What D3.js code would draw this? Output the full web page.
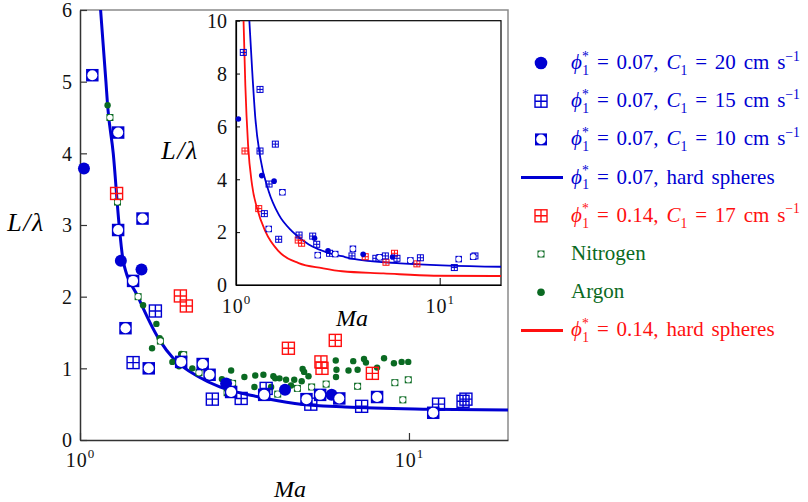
<!DOCTYPE html>
<html>
<head>
<meta charset="utf-8">
<script src="https://cdn.jsdelivr.net/npm/d3@7"></script>
<style>
  body { margin: 0; background: #fff; }
  svg { display: block; }
  text { font-family: "Liberation Serif", "Times New Roman", serif; }
</style>
</head>
<body>
<svg width="808" height="502"></svg>
<script>
// values: [Ma, L/lambda]

// main panel
const dot20 = [[1.028,3.79],[1.331,2.50],[1.538,2.38],[2.78,0.79],[4.2,0.70],[5.82,0.63]]
const grid15 = [[1.695,1.80],[1.45,1.08],[2.525,0.57],[3.09,0.58],[3.68,0.72],[5.03,0.50],
  [7.18,0.47],[12.3,0.50],[14.6,0.54],[14.9,0.57]]
const ring10 = [[1.09,5.09],[1.306,4.29],[1.549,3.09],[1.306,2.93],[1.45,2.22],[1.375,1.56],
  [1.618,1.00],[2.03,1.09],[2.36,1.06],[2.477,0.91],[2.88,0.67],[3.63,0.63],[4.88,0.57],
  [5.37,0.63],[6.14,0.58],[8.0,0.60],[11.85,0.38]]
const red17 = [[1.292,3.44],[2.019,2.01],[2.105,1.87],[4.30,1.28],[5.97,1.39],[5.40,1.09],
  [5.44,1.00],[7.74,0.93]]
const nitrogen = [[1.233,4.50],[1.30,3.32],[1.502,2.00],[1.755,1.38],[2.066,1.19],[2.30,0.94],
  [2.80,0.66],[2.91,0.79],[3.99,0.64],[4.58,0.72],[5.06,0.74],[5.6,0.78],[6.98,0.75],
  [9.06,0.80],[9.95,0.84],[9.58,0.56]]
const argon = [[1.213,4.67],[1.555,1.88],[1.707,1.62],[1.747,1.42],[1.656,1.28],[1.909,1.09],
  [2.03,1.20],[2.0,1.03],[2.195,1.00],[2.35,1.08],[2.70,0.85],[2.88,0.97],[2.85,0.81],
  [3.16,0.88],[3.41,0.90],[3.39,0.74],[3.61,0.91],[3.87,0.89],[3.92,0.86],[3.81,0.74],
  [4.23,0.84],[4.38,0.76],[4.48,0.84],[4.04,0.86],[4.75,0.99],[4.80,0.95],[4.72,0.82],
  [4.95,0.89],[5.99,1.11],[6.02,0.98],[6.0,0.88],[6.77,1.10],[6.55,0.97],[6.98,0.98],
  [7.3,1.13],[7.4,1.08],[8.0,1.01],[8.4,1.14],[9.0,1.07],[9.5,1.09],[9.95,1.09]]
const hard07 = [[1.155,6],[1.199,5.0],[1.213,4.67],[1.262,4.0],[1.315,3.0],[1.353,2.5],
  [1.5,2.0],[1.747,1.39],[1.92,1.14],[2.3,0.88],[2.66,0.74],[3.5,0.60],[4.5,0.51],
  [6.4,0.46],[11.5,0.43],[20,0.42]]

// inset
const inDot20 = [[1.027,6.28],[1.338,4.14],[1.538,3.93],[2.43,1.77],[2.83,1.29],[4.21,1.16],[5.87,1.06]]
const inGrid15 = [[1.086,8.80],[1.312,7.40],[1.312,5.07],[1.56,5.33],[1.453,3.82],[1.378,2.70],
  [1.62,1.73],[2.04,1.89],[2.38,1.85],[2.49,1.54],[2.88,1.20],[3.71,1.10],[4.86,1.01],
  [5.41,1.10],[6.17,1.01],[8.04,1.03],[11.8,0.66],[14.9,1.10]]
const inRing10 = [[1.69,3.51],[1.448,2.12],[2.52,1.13],[3.07,1.17],[3.75,1.37],[5.07,1.05],
  [7.18,0.93],[12.4,0.98],[14.6,1.07]]
const inRed17 = [[1.107,5.07],[1.293,2.89],[2.02,1.70],[2.10,1.58],[4.31,1.07],[5.45,0.86],
  [6.00,1.20],[7.73,0.80]]
const inHard07 = [[1.163,10],[1.199,8.2],[1.244,6.32],[1.317,4.8],[1.448,3.54],[1.622,2.66],
  [1.886,2.03],[2.277,1.53],[2.858,1.21],[3.32,1.09],[3.64,1.01],[6.41,0.82],[20,0.69]]
const inHard14 = [[1.089,10],[1.111,7.58],[1.146,5.31],[1.199,3.79],[1.268,2.91],[1.394,2.03],
  [1.622,1.27],[2.03,0.83],[2.647,0.64],[3.32,0.52],[5.30,0.44],[9.35,0.35],[20,0.34]]

const xDomain = [1, 20]
const xTicks = [1, 10]
const yTicks = [0, 1, 2, 3, 4, 5, 6]
const inYTicks = [0, 2, 4, 6, 8, 10]

const legendLabels = [
  [["ϕ","i"],["*","sup"],["1","sub",-6.5],[" = 0.07, "],["C","i"],["1","sub"],[" = 20 cm s"],["−1","sup"]],
  [["ϕ","i"],["*","sup"],["1","sub",-6.5],[" = 0.07, "],["C","i"],["1","sub"],[" = 15 cm s"],["−1","sup"]],
  [["ϕ","i"],["*","sup"],["1","sub",-6.5],[" = 0.07, "],["C","i"],["1","sub"],[" = 10 cm s"],["−1","sup"]],
  [["ϕ","i"],["*","sup"],["1","sub",-6.5],[" = 0.07, hard spheres"]],
  [["ϕ","i"],["*","sup"],["1","sub",-6.5],[" = 0.14, "],["C","i"],["1","sub"],[" = 17 cm s"],["−1","sup"]],
  [["Nitrogen"]],
  [["Argon"]],
  [["ϕ","i"],["*","sup"],["1","sub",-6.5],[" = 0.14, hard spheres"]]
]

const BLUE = "#0000d2", RED = "#ff1010", GREEN = "#0a6a22"

const svg = d3.select("svg")

// ---- marker helpers
function marker(g, type, cx, cy, s, color) {
  if (type === "dot") {
    g.append("circle").attr("cx", cx).attr("cy", cy).attr("r", s).attr("fill", color)
  } else if (type === "grid") {
    const h = s / 2
    g.append("rect").attr("x", cx - h).attr("y", cy - h).attr("width", s).attr("height", s)
      .attr("fill", "none").attr("stroke", color).attr("stroke-width", s > 8 ? 1.4 : 1)
    g.append("path").attr("d", `M${cx - h},${cy}H${cx + h}M${cx},${cy - h}V${cy + h}`)
      .attr("stroke", color).attr("stroke-width", s > 8 ? 1.4 : 1)
  } else if (type === "ring") {
    const h = s / 2
    g.append("rect").attr("x", cx - h).attr("y", cy - h).attr("width", s).attr("height", s).attr("fill", color)
    g.append("circle").attr("cx", cx).attr("cy", cy).attr("r", h * 0.8).attr("fill", "#fff")
  }
}

function drawSeries(g, data, x, y, type, s, color) {
  data.forEach(d => marker(g, type, x(d[0]), y(d[1]), s, color))
}

function richText(g, x, y, parts, color, size) {
  const t = g.append("text").attr("x", x).attr("y", y).attr("fill", color)
    .attr("font-size", size).style("word-spacing", "2.6px")
  let shift = 0
  parts.forEach(p => {
    const [s, k, dx] = p
    const sp = t.append("tspan").text(s)
    let target = 0, fs = size
    if (k === "sup") { target = -size * 0.4; fs = size * 0.65 }
    if (k === "sub") { target = size * 0.28; fs = size * 0.65 }
    if (k === "i") sp.attr("font-style", "italic")
    sp.attr("font-size", fs).attr("dy", target - shift)
    if (dx) sp.attr("dx", dx)
    shift = target
  })
  return t
}

function powLabel(sel, exp) {
  sel.text("")
  sel.append("tspan").text("10")
  sel.append("tspan").text(exp).attr("font-size", 13).attr("dy", -9)
}

// ---- main panel
const M = {l: 80, r: 508, t: 10, b: 440}
const x = d3.scaleLog().domain(xDomain).range([M.l, M.r])
const y = d3.scaleLinear().domain([0, 6]).range([M.b, M.t])

svg.append("defs").append("clipPath").attr("id", "clipMain")
  .append("rect").attr("x", M.l).attr("y", M.t).attr("width", M.r - M.l).attr("height", M.b - M.t)

// top/right frame
svg.append("path").attr("d", `M${M.l},${M.t}H${M.r}V${M.b}`).attr("fill", "none")
  .attr("stroke", "#8a8a8a").attr("stroke-width", 1.5)

const yAxis = svg.append("g").attr("transform", `translate(${M.l},0)`)
  .call(d3.axisLeft(y).tickValues(yTicks).tickFormat(d3.format("d")).tickSizeInner(-7).tickSizeOuter(0).tickPadding(8))
const xAxis = svg.append("g").attr("transform", `translate(0,${M.b})`)
  .call(d3.axisBottom(x).tickValues(xTicks).tickSizeInner(-7).tickSizeOuter(0).tickPadding(20))
;[yAxis, xAxis].forEach(a => {
  a.select(".domain").attr("stroke", "#333").attr("stroke-width", 1.5)
  a.selectAll(".tick line").attr("stroke", "#333").attr("stroke-width", 1.2)
  a.selectAll("text").attr("font-size", 20).attr("font-family", "Liberation Serif, serif").attr("fill", "#111")
})
yAxis.selectAll(".tick text").attr("dy", "0.34em")
xAxis.selectAll(".tick text").attr("dy", 0).attr("y", 27).style("letter-spacing", "1px").each(function(d) {
  powLabel(d3.select(this), String(Math.round(Math.log10(d))))
})

svg.append("text").attr("x", 290).attr("y", 497).attr("text-anchor", "middle")
  .attr("font-size", 24).attr("font-style", "italic").text("Ma")
svg.append("text").attr("x", 26).attr("y", 231).attr("text-anchor", "middle")
  .attr("font-size", 26).attr("font-style", "italic").style("letter-spacing", "1.5px").text("L/λ")

const mainG = svg.append("g").attr("clip-path", "url(#clipMain)")
mainG.append("path").datum(hard07)
  .attr("d", d3.line().x(d => x(d[0])).y(d => y(d[1])).curve(d3.curveMonotoneX))
  .attr("fill", "none").attr("stroke", BLUE).attr("stroke-width", 3)

const mg = svg.append("g")
drawSeries(mg, argon, x, y, "dot", 3.2, GREEN)
drawSeries(mg, nitrogen, x, y, "ring", 7, GREEN)
drawSeries(mg, red17, x, y, "grid", 12, RED)
drawSeries(mg, grid15, x, y, "grid", 12, BLUE)
drawSeries(mg, dot20, x, y, "dot", 6, BLUE)
drawSeries(mg, ring10, x, y, "ring", 12.5, BLUE)

// ---- inset
const I = {l: 236, r: 501, t: 20.7, b: 285}
const xi = d3.scaleLog().domain(xDomain).range([I.l, I.r])
const yi = d3.scaleLinear().domain([0, 10]).range([I.b, I.t])

svg.select("defs").append("clipPath").attr("id", "clipInset")
  .append("rect").attr("x", I.l).attr("y", I.t).attr("width", I.r - I.l).attr("height", I.b - I.t)

svg.append("rect").attr("x", I.l).attr("y", I.t).attr("width", I.r - I.l).attr("height", I.b - I.t)
  .attr("fill", "#fff").attr("stroke", "#000").attr("stroke-width", 1.2)

const yiAxis = svg.append("g").attr("transform", `translate(${I.l},0)`)
  .call(d3.axisLeft(yi).tickValues(inYTicks).tickFormat(d3.format("d")).tickSizeInner(-4).tickSizeOuter(0).tickPadding(9))
const xiAxis = svg.append("g").attr("transform", `translate(0,${I.b})`)
  .call(d3.axisBottom(xi).tickValues(xTicks).tickSizeInner(-7).tickSizeOuter(0).tickPadding(20))
;[yiAxis, xiAxis].forEach(a => {
  a.select(".domain").attr("stroke", "#000").attr("stroke-width", 1.2)
  a.selectAll(".tick line").attr("stroke", "#000")
  a.selectAll("text").attr("font-size", 20).attr("font-family", "Liberation Serif, serif").attr("fill", "#111")
})
yiAxis.selectAll(".tick text").attr("dy", "0.34em")
xiAxis.selectAll(".tick text").attr("dy", 0).attr("y", 28).style("letter-spacing", "1px").each(function(d) {
  powLabel(d3.select(this), String(Math.round(Math.log10(d))))
})

svg.append("text").attr("x", 352).attr("y", 326).attr("text-anchor", "middle")
  .attr("font-size", 24).attr("font-style", "italic").text("Ma")
svg.append("text").attr("x", 180).attr("y", 159).attr("text-anchor", "middle")
  .attr("font-size", 26).attr("font-style", "italic").style("letter-spacing", "1.5px").text("L/λ")

const inLine = d3.line().x(d => xi(d[0])).y(d => yi(d[1])).curve(d3.curveMonotoneX)
const ig = svg.append("g").attr("clip-path", "url(#clipInset)")
ig.append("path").datum(inHard14).attr("d", inLine).attr("fill", "none").attr("stroke", RED).attr("stroke-width", 1.8)
ig.append("path").datum(inHard07).attr("d", inLine).attr("fill", "none").attr("stroke", BLUE).attr("stroke-width", 1.8)

const im = svg.append("g")
drawSeries(im, inRed17, xi, yi, "grid", 6, RED)
drawSeries(im, inGrid15, xi, yi, "grid", 6, BLUE)
drawSeries(im, inRing10, xi, yi, "ring", 6.5, BLUE)
drawSeries(im, inDot20, xi, yi, "dot", 2.8, BLUE)

// ---- legend
const legendKeys = [
  {type: "dot", s: 6.3, color: BLUE},
  {type: "grid", s: 12, color: BLUE},
  {type: "ring", s: 12, color: BLUE},
  {type: "line", color: BLUE},
  {type: "grid", s: 12, color: RED},
  {type: "ring", s: 7, color: GREEN},
  {type: "dot", s: 3.8, color: GREEN},
  {type: "line", color: RED}
]
const lg = svg.append("g")
legendKeys.forEach((k, i) => {
  const cy = 63 + i * 38.2
  if (k.type === "line") {
    lg.append("line").attr("x1", 521).attr("x2", 563).attr("y1", cy).attr("y2", cy)
      .attr("stroke", k.color).attr("stroke-width", 3)
  } else {
    marker(lg, k.type, 541, cy, k.s, k.color)
  }
  richText(lg, 571, cy + 6, legendLabels[i], k.color, 21)
})
</script>
</body>
</html>
